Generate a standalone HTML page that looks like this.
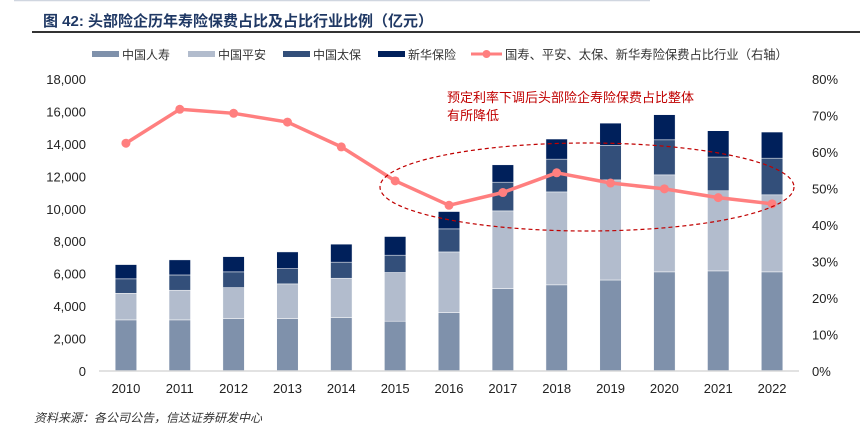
<!DOCTYPE html>
<html><head><meta charset="utf-8">
<style>
body{margin:0;background:#fff;}
svg{display:block;font-family:"Liberation Sans","Noto Sans CJK SC",sans-serif;}
</style></head>
<body>
<svg id="chart" width="860" height="434" viewBox="0 0 860 434">
  <line x1="14" y1="0.5" x2="650" y2="0.5" stroke="#d0d6e0" stroke-width="1.5"/>
  <text x="43" y="26" font-size="15" font-weight="bold" fill="#1f3864">图 42:  头部险企历年寿险保费占比及占比行业比例（亿元）</text>
  <line x1="32" y1="32" x2="860" y2="32" stroke="#333" stroke-width="2"/>
  <g id="legend"></g>
  <g id="grid"></g>
  <g id="bars"></g>
  <g id="line"></g>
  <g id="axes"></g>
  <ellipse cx="587" cy="187" rx="207" ry="44" fill="none" stroke="#c00000" stroke-width="1.2" stroke-dasharray="4,3"/>
  <text x="447" y="102" font-size="13" fill="#c00000">预定利率下调后头部险企寿险保费占比整体</text>
  <text x="447" y="120" font-size="13" fill="#c00000">有所降低</text>
  <text x="34" y="422" font-size="12" font-style="italic" fill="#333">资料来源：各公司公告，信达证券研发中心</text>
</svg>
<script>
const categories = ["2010","2011","2012","2013","2014","2015","2016","2017","2018","2019","2020","2021","2022"];
const chinaLife = [3150,3150,3230,3230,3290,3070,3600,5080,5310,5610,6110,6170,6110];
const pingAn = [1640,1830,1910,2140,2430,3000,3740,4790,5730,6170,5980,4940,4750];
const cpic = [890,940,970,940,990,1070,1420,1770,2020,2120,2160,2080,2260];
const newChina = [880,930,940,1030,1110,1150,1070,1070,1240,1380,1550,1620,1610];
const sharePct = [62.4,71.7,70.6,68.2,61.4,52.1,45.4,48.9,54.3,51.5,49.9,47.5,45.8];
const leftTicks = [0,2000,4000,6000,8000,10000,12000,14000,16000,18000];
const rightTicks = [0,10,20,30,40,50,60,70,80];
const seriesNames = ["中国人寿","中国平安","中国太保","新华保险"];
const seriesColors = ["#7f91ab","#b2bccd","#334f7a","#00205b"];
const lineName = "国寿、平安、太保、新华寿险保费占比行业（右轴）";

const NS="http://www.w3.org/2000/svg";
const X0=99, X1=799, Y0=371, Y1=79;
const band=(X1-X0)/categories.length;
const xc=i=>X0+band*(i+0.5);
const yL=v=>Y0-(v/18000)*(Y0-Y1);
const yR=v=>Y0-(v/80)*(Y0-Y1);
function mk(tag,attrs,parent){const e=document.createElementNS(NS,tag);for(const k in attrs)e.setAttribute(k,attrs[k]);parent.appendChild(e);return e;}
const g=id=>document.getElementById(id);

let ax=mk('line',{x1:X0,y1:Y0,x2:X1,y2:Y0,stroke:'#d9d9d9','stroke-width':1.5},g('axes'));


leftTicks.forEach(v=>{
  const t=mk('text',{x:86,y:yL(v)+5,'font-size':13,'text-anchor':'end',fill:'#222'},g('axes'));
  t.textContent=v.toLocaleString('en-US');
  
  
});
rightTicks.forEach(v=>{
  const t=mk('text',{x:812,y:yR(v)+5,'font-size':13,fill:'#222'},g('axes'));
  t.textContent=v+'%';
  
  
});
categories.forEach((c,i)=>{
  const t=mk('text',{x:xc(i),y:393,'font-size':13,'text-anchor':'middle',fill:'#222'},g('axes'));
  t.textContent=c;
  
  
});

const series=[chinaLife,pingAn,cpic,newChina];
const bw=21.5;
categories.forEach((c,i)=>{
  let cum=0;
  series.forEach((s,k)=>{
    const y0=yL(cum), y1=yL(cum+s[i]);
    const r=mk('rect',{x:xc(i)-bw/2,y:y1,width:bw,height:y0-y1,fill:seriesColors[k],stroke:'#fff','stroke-width':0.5},g('bars'));
    
    
    cum+=s[i];
  });
});

const pts=sharePct.map((v,i)=>xc(i)+','+yR(v)).join(' ');
const pl=mk('polyline',{points:pts,fill:'none',stroke:'#ff7f7f','stroke-width':3.5,'stroke-linejoin':'round'},g('line'));


sharePct.forEach((v,i)=>{
  const c=mk('circle',{cx:xc(i),cy:yR(v),r:4.5,fill:'#ff7f7f'},g('line'));
  
  
});

const lx=[92,188,283,378];
seriesNames.forEach((n,k)=>{
  const r=mk('rect',{x:lx[k],y:51,width:27,height:6,fill:seriesColors[k]},g('legend'));
  
  
  const t=mk('text',{x:lx[k]+30,y:59,'font-size':12,fill:'#333'},g('legend'));
  t.textContent=n;
  
  
});
const ll=mk('line',{x1:471,y1:54,x2:502,y2:54,stroke:'#ff7f7f','stroke-width':3},g('legend'));


const lc=mk('circle',{cx:486.5,cy:54,r:4,fill:'#ff7f7f'},g('legend'));


const lt=mk('text',{x:505,y:59,'font-size':12.3,fill:'#333'},g('legend'));
lt.textContent=lineName;


</script>
</body></html>
